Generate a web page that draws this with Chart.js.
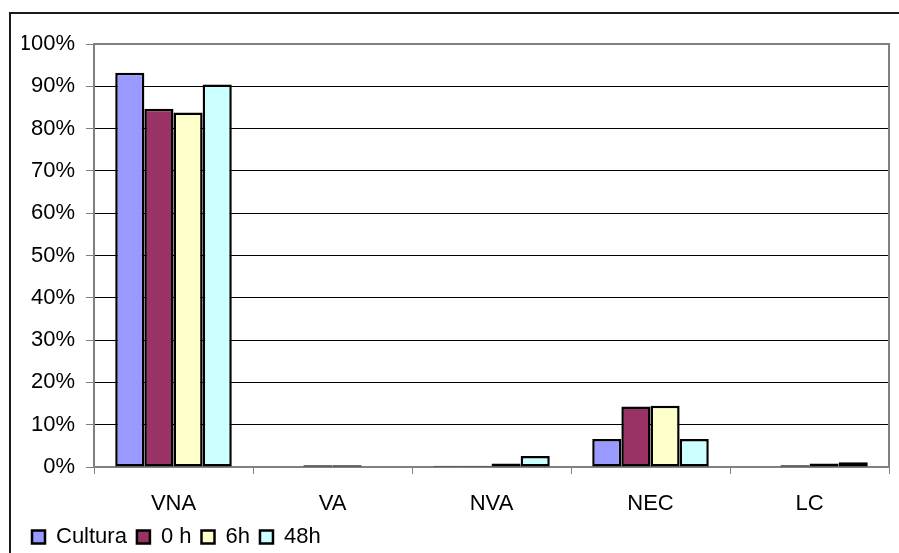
<!DOCTYPE html>
<html>
<head>
<meta charset="utf-8">
<script src="https://cdn.jsdelivr.net/npm/chart.js@4.4.1/dist/chart.umd.min.js"></script>
<style>
    html, body { margin: 0; padding: 0; background: #fff; overflow: hidden; }
    #wrap { position: relative; width: 899px; height: 553px; }
    #frame { position: absolute; left: 9px; top: 12px; width: 1000px; height: 1000px; border: 2px solid #1a1a1a; box-sizing: border-box; }
    #chart { position: absolute; left: 0; top: 0; }
</style>
</head>
<body>
<div id="wrap">
    <div id="frame"></div>
    <canvas id="chart" width="899" height="553"></canvas>
</div>
<script>
// Categorias e séries (valores em %)
const categories = ['VNA', 'VA', 'NVA', 'NEC', 'LC'];
const seriesNames = ['Cultura', '0 h', '6h', '48h'];
const cultura = [93.2, 0, 0.3, 6.6, 0];
const h0 = [84.7, 0.4, 0.3, 14.3, 0.4];
const h6 = [83.8, 0.4, 0.8, 14.5, 0.8];
const h48 = [90.4, 0, 2.6, 6.6, 1.1];
const seriesColors = ['#9999FF', '#993366', '#FFFFCC', '#CCFFFF'];

const FONT = { family: "'Liberation Sans', Arial, sans-serif", size: 22 };

// Moldura cinza da área de plotagem
const plotBorder = {
    id: 'plotBorder',
    beforeDatasetsDraw(chart) {
        const { ctx, chartArea: a } = chart;
        ctx.save();
        ctx.strokeStyle = '#808080';
        ctx.lineWidth = 2;
        ctx.strokeRect(a.left, a.top, a.right - a.left, a.bottom - a.top);
        ctx.restore();
    }
};

const allValues = [cultura, h0, h6, h48];

new Chart(document.getElementById('chart'), {
    type: 'bar',
    data: {
        labels: categories,
        datasets: seriesNames.map((name, i) => ({
            label: name,
            data: allValues[i],
            backgroundColor: seriesColors[i],
            borderColor: '#000',
            borderWidth: 2.5,
            borderSkipped: false,
            categoryPercentage: 0.733,
            barPercentage: 1.0
        }))
    },
    options: {
        responsive: false,
        animation: false,
        layout: { padding: { left: 22, right: 10, top: 44, bottom: -5 } },
        plugins: {
            tooltip: { enabled: false },
            legend: {
                position: 'bottom',
                align: 'start',
                labels: {
                    color: '#000',
                    font: FONT,
                    boxWidth: 13,
                    boxHeight: 13,
                    padding: 10,
                    useBorderRadius: false
                }
            }
        },
        scales: {
            x: {
                grid: { display: true, drawOnChartArea: false, drawTicks: true, tickLength: 7, tickColor: '#808080', offset: true },
                border: { display: true, color: '#808080', width: 2 },
                ticks: { color: '#000', font: FONT, padding: 17, maxRotation: 0 },
                afterFit(scale) { scale.height = 49; }
            },
            y: {
                min: 0,
                max: 100,
                grid: { color: '#000', lineWidth: 1, tickLength: 8, tickColor: '#808080' },
                border: { display: true, color: '#808080', width: 2 },
                ticks: {
                    stepSize: 10,
                    color: '#000',
                    font: FONT,
                    padding: 11,
                    callback: v => v + '%'
                },
                afterFit(scale) { scale.width = 72; }
            }
        }
    },
    plugins: [plotBorder]
});
</script>
</body>
</html>
